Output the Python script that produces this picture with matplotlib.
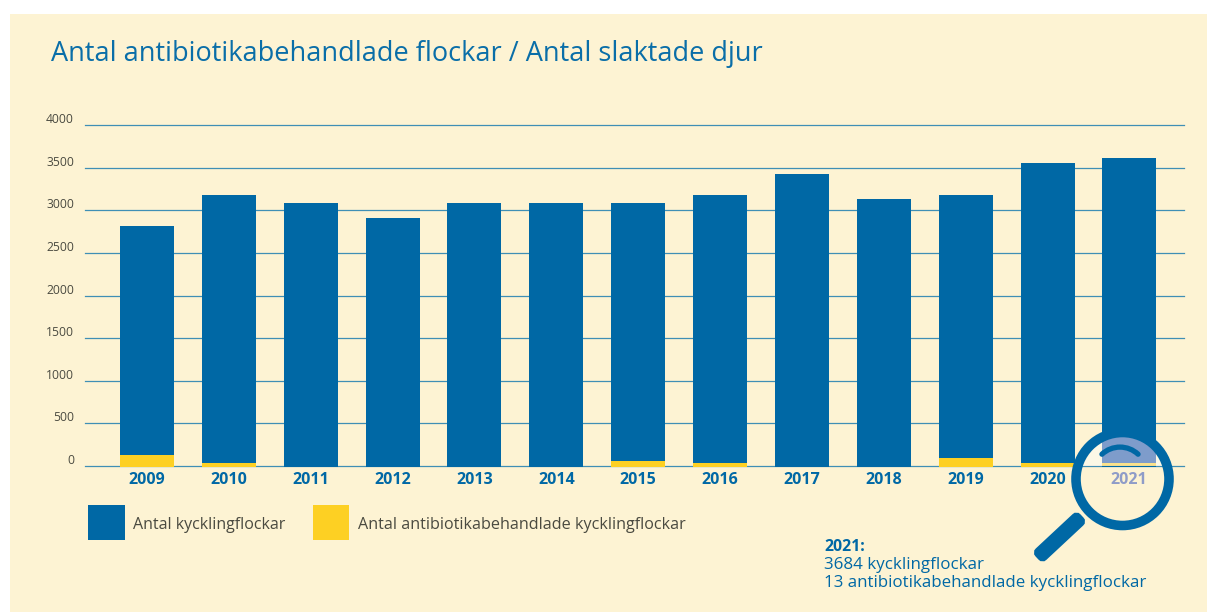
import matplotlib
matplotlib.use('Agg')
import matplotlib.pyplot as plt
from matplotlib.patches import Rectangle, Circle, Arc, FancyBboxPatch
from matplotlib.transforms import Affine2D, ScaledTranslation

plt.rcParams['font.family'] = ['Open Sans', 'DejaVu Sans']

years = [2009, 2010, 2011, 2012, 2013, 2014, 2015, 2016, 2017, 2018, 2019, 2020, 2021]
flockar = [2810, 3175, 3080, 2905, 3080, 3080, 3080, 3175, 3420, 3130, 3175, 3555, 3610]
behandlade = [125, 35, 0, 0, 0, 0, 60, 35, 0, 0, 90, 35, 35]
yticks = [0, 500, 1000, 1500, 2000, 2500, 3000, 3500, 4000]

BLUE = '#0068a5'
YELLOW = '#fdd023'
CREAM = '#fdf3d3'
W, H = 1207, 614
UNDER = -14  # staplarna går lite under nollinjen

fig = plt.figure(figsize=(W / 100, H / 100), dpi=100, facecolor='white')

# bakgrund + allt som placeras i pixlar
bg = fig.add_axes([0, 0, 1, 1], zorder=0)
bg.set_xlim(0, W)
bg.set_ylim(H, 0)
bg.axis('off')
bg.add_patch(Rectangle((10, 14), W - 10, 598, color=CREAM, lw=0))

bg.text(51, 54, 'Antal antibiotikabehandlade flockar / Antal slaktade djur',
        fontsize=19.5, color='#0a6ea8', va='center')

bg.add_patch(Rectangle((88, 505), 37, 35, color=BLUE, lw=0))
bg.text(133, 525, 'Antal kycklingflockar', fontsize=11.5, color='#4a4a40', va='center')
bg.add_patch(Rectangle((313, 505), 36, 35, color=YELLOW, lw=0))
bg.text(358, 525, 'Antal antibiotikabehandlade kycklingflockar', fontsize=11.6, color='#4a4a40', va='center')

bg.text(824, 547, '2021:', fontsize=11.4, fontweight='bold', color=BLUE, va='center')
bg.text(824, 565, '3684 kycklingflockar', fontsize=12.2, color=BLUE, va='center')
bg.text(824, 583, '13 antibiotikabehandlade kycklingflockar', fontsize=12.15, color=BLUE, va='center')

# diagrammet
x = list(range(len(years)))
pos = [85 / W, 1 - 466 / H, (1184 - 85) / W, (466 - 125) / H]
ax = fig.add_axes(pos, zorder=1)
ax.patch.set_alpha(0)
ax.set_xlim(-0.757, 12.667)
ax.set_ylim(0, 4000)
for v in yticks:
    ax.axhline(v, color='#3f8fb5', lw=0.9, zorder=1, clip_on=False)
ax.bar(x, [f - UNDER for f in flockar], bottom=UNDER, width=0.66, color=BLUE, zorder=2, clip_on=False)
ax.bar(x[:-1], [b - UNDER if b else 0 for b in behandlade[:-1]], bottom=UNDER, width=0.66,
       color=YELLOW, zorder=3, clip_on=False)
for s in ax.spines.values():
    s.set_visible(False)
ax.set_yticks(yticks)
ax.set_yticklabels([str(v) for v in yticks], fontsize=8.7, color='#4a4a40')
ax.set_xticks(x)
ax.set_xticklabels([str(y) for y in years[:-1]] + [''], fontsize=11.5, fontweight='bold', color=BLUE)
ax.tick_params(length=0)
ax.tick_params(axis='y', pad=8)
ax.tick_params(axis='x', pad=4.5)
# y-etiketterna sitter lite ovanför linjerna
for lbl in ax.get_yticklabels():
    lbl.set_transform(lbl.get_transform() + ScaledTranslation(0, 0.07, fig.dpi_scale_trans))

# förstoringsglaset
lens_ax = fig.add_axes(pos, zorder=2)
lens_ax.patch.set_alpha(0)
lens_ax.set_xlim(ax.get_xlim())
lens_ax.set_ylim(ax.get_ylim())
lens_ax.axis('off')

top = fig.add_axes([0, 0, 1, 1], zorder=3)
top.set_xlim(0, W)
top.set_ylim(H, 0)
top.axis('off')
top.patch.set_alpha(0)

lens_xy = (1122.5, 479)
glass = Circle(lens_xy, 46.5, transform=top.transData, color='#fbf8e6', lw=0, zorder=1)
lens_ax.add_patch(glass)
clip = Circle(lens_xy, 46.5, transform=top.transData)
grid = lens_ax.axhline(0, color='#8f9cc8', lw=0.9, zorder=4)
grid.set_clip_path(clip)
b1 = lens_ax.bar(x[-1], flockar[-1], width=0.66, color='#7e9ccb', zorder=2)
b2 = lens_ax.bar(x[-1], behandlade[-1] - UNDER, bottom=UNDER, width=0.66, color='#fbe28a', zorder=3, clip_on=True)
for p in list(b1) + list(b2):
    p.set_clip_path(clip)
top.text(1129, 480, '2021', fontsize=11.5, fontweight='bold', color='#8f9cc8', ha='center', va='center')

top.add_patch(Arc((1120, 473.6), 53, 53, theta1=227, theta2=313, color=BLUE, lw=3.8, capstyle='round'))
top.add_patch(Circle(lens_xy, 46.5, fill=False, ec=BLUE, lw=6.9))

handle = FancyBboxPatch((1059.5 - 28, 537 - 5), 56, 10, boxstyle='round,pad=0,rounding_size=3',
                        mutation_aspect=1, color=BLUE, lw=4)
handle.set_transform(Affine2D().rotate_deg_around(1059.5, 537, -43) + top.transData)
top.add_patch(handle)

fig.savefig('out.png', dpi=100)
